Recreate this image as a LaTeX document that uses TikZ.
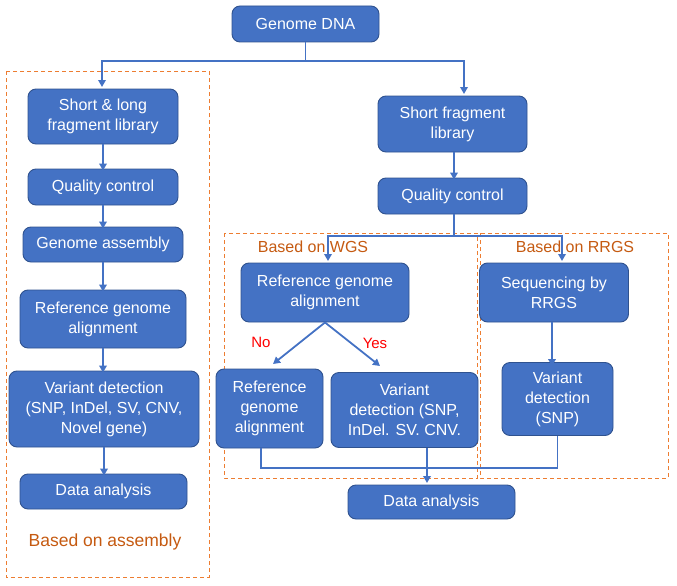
\documentclass[tikz,border=0pt]{standalone}
\usepackage{fontspec}
\setmainfont{Liberation Sans}
\usetikzlibrary{arrows.meta}
\definecolor{boxblue}{HTML}{4472C4}
\definecolor{boxedge}{HTML}{2F528F}
\definecolor{dashor}{HTML}{ED7D31}
\definecolor{labor}{HTML}{C55A11}
\tikzset{
  pbox/.style={draw=boxedge, line width=0.9pt, fill=boxblue, rounded corners=8pt,
    text=white, align=center, font=\fontsize{16}{20}\selectfont, inner sep=2pt},
  conn/.style={draw=boxblue, line width=1.8pt},
  arr/.style={conn, -{Triangle[length=7pt,width=7.5pt]}},
  group/.style={draw=dashor, line width=0.8pt, dash pattern=on 4pt off 3pt},
  grouplabel/.style={text=labor, font=\fontsize{16}{19}\selectfont, inner sep=0pt},
  decision/.style={text=red, font=\fontsize{15}{18}\selectfont, inner sep=0pt}
}
\begin{document}
\begin{tikzpicture}[x=1pt,y=-1pt]
\useasboundingbox (0,0) rectangle (677,586);
% group frames
\draw[group] (6,71) rectangle (209,577);
\draw[group] (224,233) rectangle (477,478);
\draw[group] (480,233) rectangle (668,478);
\node[grouplabel] (lblA) at (105,542) {\fontsize{17.5}{20}\selectfont Based on assembly};
\node[grouplabel] (lblW) at (313,247) {Based on WGS};
\node[grouplabel] (lblR) at (575,247) {Based on RRGS};
% boxes
\node[pbox, minimum width=147pt, minimum height=36pt] (dna) at (305.5,24) {Genome DNA};
\node[pbox, minimum width=150pt, minimum height=55pt] (sl) at (103,116.5) {Short \& long\\fragment library};
\node[pbox, minimum width=150pt, minimum height=36pt] (qcL) at (103,187) {Quality control};
\node[pbox, minimum width=160pt, minimum height=35pt] (ga) at (103,244.5) {Genome assembly};
\node[pbox, minimum width=166pt, minimum height=58pt] (rgaL) at (103,319) {Reference genome\\alignment};
\node[pbox, minimum width=190pt, minimum height=76pt] (vdL) at (104,409) {Variant detection\\(SNP, InDel, SV, CNV,\\Novel gene)};
\node[pbox, minimum width=167pt, minimum height=35pt] (daL) at (103.5,491.5) {Data analysis};
\node[pbox, minimum width=149pt, minimum height=56pt] (sf) at (452.5,124) {Short fragment\\library};
\node[pbox, minimum width=149pt, minimum height=36pt] (qcR) at (452.5,196) {Quality control};
\node[pbox, minimum width=168pt, minimum height=59pt] (rgaW) at (325,292.5) {Reference genome\\alignment};
\node[pbox, minimum width=107pt, minimum height=79pt] (rgaN) at (269.5,408.5) {Reference\\genome\\alignment};
\node[pbox, minimum width=147pt, minimum height=75pt] (vdW) at (404.5,410) {Variant\\detection (SNP,\\InDel. SV. CNV.};
\node[pbox, minimum width=149pt, minimum height=59pt] (seq) at (554,292.5) {Sequencing by\\RRGS};
\node[pbox, minimum width=111pt, minimum height=73pt] (vdS) at (557.5,399) {Variant\\detection\\(SNP)};
\node[pbox, minimum width=167pt, minimum height=34pt] (daR) at (431.5,502) {Data analysis};
% decision labels
\node[decision] (no) at (261,342) {No};
\node[decision] (yes) at (375,343) {Yes};
% junction coordinates
\coordinate (j1) at (305.5,61);
\coordinate (slIn) at (102,87);
\coordinate (sfIn) at (464,94);
\coordinate (j2) at (454,236);
\coordinate (rgaWIn) at (328,261);
\coordinate (seqIn) at (562,261);
\coordinate (noEnd) at (273,364);
\coordinate (yesEnd) at (380,366);
\coordinate (rgaNOut) at (261,448);
\coordinate (j3) at (261,468);
\coordinate (vdWOut) at (427,448);
\coordinate (daRIn) at (427,483);
% connectors
\draw[conn] (dna.south) -- (j1);
\draw[arr] (j1) -| (slIn);
\draw[arr] (j1) -| (sfIn);
\draw[arr] (sl.south) -- ([yshift=-2pt]sl.south |- qcL.north);
\draw[arr] (qcL.south) -- ([yshift=-2pt]qcL.south |- ga.north);
\draw[arr] (ga.south) -- ([yshift=-2pt]ga.south |- rgaL.north);
\draw[arr] (rgaL.south) -- ([yshift=-2pt]rgaL.south |- vdL.north);
\draw[arr] (vdL.south) -- ([yshift=-2pt]vdL.south |- daL.north);
\draw[arr] ([xshift=1.5pt]sf.south) -- ([xshift=1.5pt,yshift=-2pt]sf.south |- qcR.north);
\draw[conn] ([xshift=1.5pt]qcR.south) -- (j2);
\draw[arr] (j2) -| (rgaWIn);
\draw[arr] (j2) -| (seqIn);
\draw[arr] (rgaW.south) -- (noEnd);
\draw[arr] (rgaW.south) -- (yesEnd);
\draw[arr] ([xshift=-2pt]seq.south) -- ([xshift=-2pt,yshift=-4pt]vdS.north -| seq.south);
\draw[conn] (rgaNOut) -- (j3) -| (vdS.south);
\draw[arr] (vdWOut) -- (daRIn);
\end{tikzpicture}
\end{document}
